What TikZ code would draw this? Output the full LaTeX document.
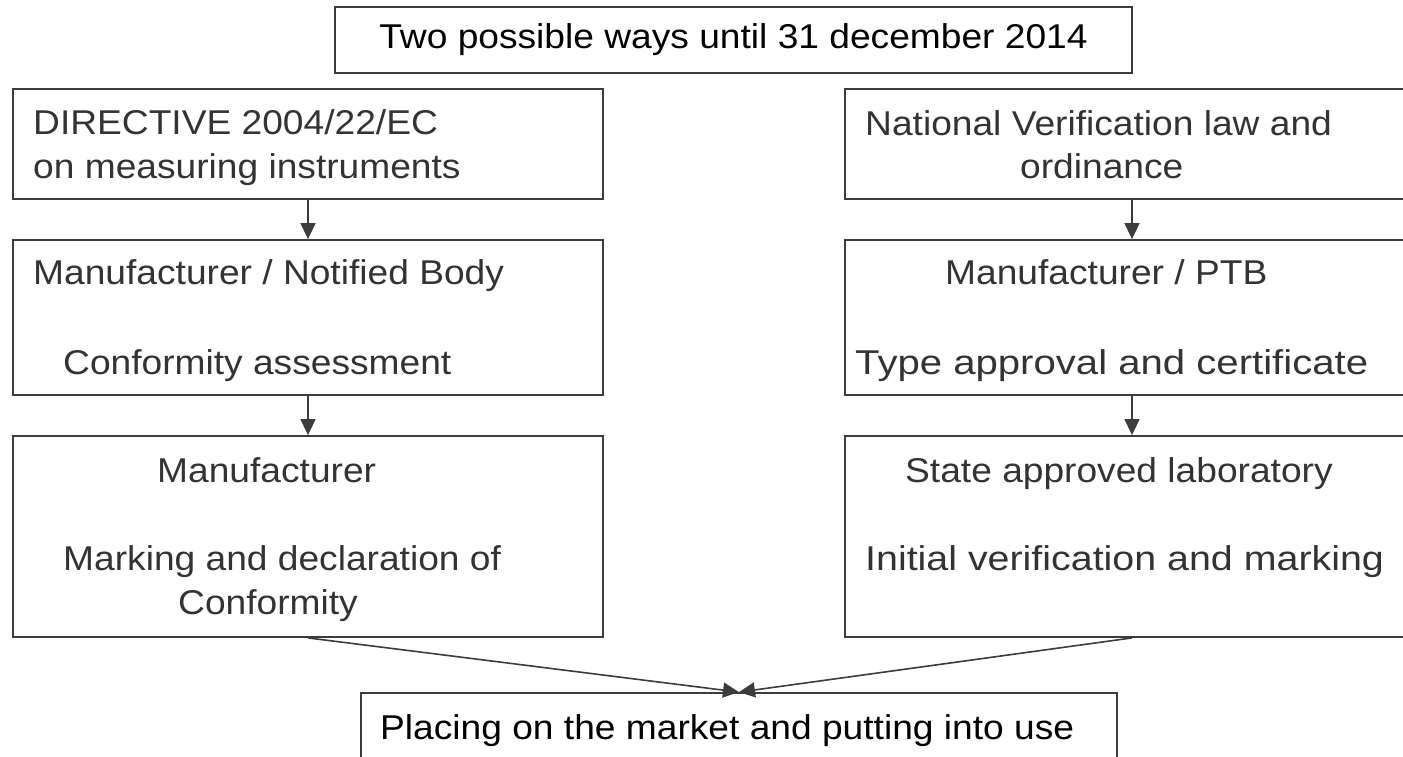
\documentclass[tikz,border=0pt]{standalone}
\usepackage{fontspec}
\usepackage{graphicx}
\setmainfont{Liberation Sans}[FakeStretch=1.08]
\usetikzlibrary{arrows.meta}

\definecolor{linegray}{HTML}{3C3C3C}
\definecolor{textgray}{HTML}{333333}

\tikzset{
  box/.style={draw=linegray, line width=1.8pt, rectangle, inner sep=0pt},
  txt/.style={anchor=base west, inner sep=0pt, text=textgray},
  link/.style={draw=linegray, line width=1.6pt, -{Triangle[length=16pt,width=15pt]}},
}

\begin{document}
\begin{tikzpicture}[x=1pt, y=-1pt, font=\fontsize{34.4}{44}\selectfont]
\useasboundingbox (0,0) rectangle (1403,756);
\clip (0,0) rectangle (1403,756);

% top
\node[box, minimum width=797pt, minimum height=66pt] (ways) at (733.5,40) {Two possible ways until 31 december 2014};

% left column
\node[box, minimum width=590pt, minimum height=110pt] (dir) at (308,144) {};
\node[txt] (dira) at (33,134) {DIRECTIVE 2004/22/EC};
\node[txt] (dirb) at (33,178) {on measuring instruments};
\node[box, minimum width=590pt, minimum height=155pt] (nb) at (308,317.5) {};
\node[txt] (nba) at (33,284) {Manufacturer / Notified Body};
\node[txt] (nbb) at (63,374) {Conformity assessment};
\node[box, minimum width=590pt, minimum height=201pt] (mark) at (308,536.5) {};
\node[txt] (marka) at (157,482) {Manufacturer};
\node[txt] (markb) at (63,570) {Marking and declaration of};
\node[txt] (markc) at (178,614) {Conformity};

% right column
\node[box, minimum width=574pt, minimum height=110pt] (law) at (1132,144) {};
\node[txt] (lawa) at (865,135) {National Verification law and};
\node[txt] (lawb) at (1020,178) {ordinance};
\node[box, minimum width=574pt, minimum height=155pt] (ptb) at (1132,317.5) {};
\node[txt] (ptba) at (945,284) {Manufacturer / PTB};
\node[txt] (ptbb) at (855,374) {\scalebox{1.08}[1]{Type approval and certificate}};
\node[box, minimum width=574pt, minimum height=201pt] (lab) at (1132,536.5) {};
\node[txt] (laba) at (905,482) {State approved laboratory};
\node[txt] (labb) at (865,570) {\scalebox{1.06}[1]{Initial verification and marking}};

% bottom
\node[box, minimum width=756pt, minimum height=110pt] (market) at (739,748) {};
\node[txt, text=black] (marketa) at (380,739) {Placing on the market and putting into use};

\draw[link] (dir) -- (nb);
\draw[link] (nb) -- (mark);
\draw[link] (law) -- (ptb);
\draw[link] (ptb) -- (lab);
\draw[link] (mark.south) -- (market.north);
\draw[link] (lab.south) -- (market.north);
\end{tikzpicture}
\end{document}
